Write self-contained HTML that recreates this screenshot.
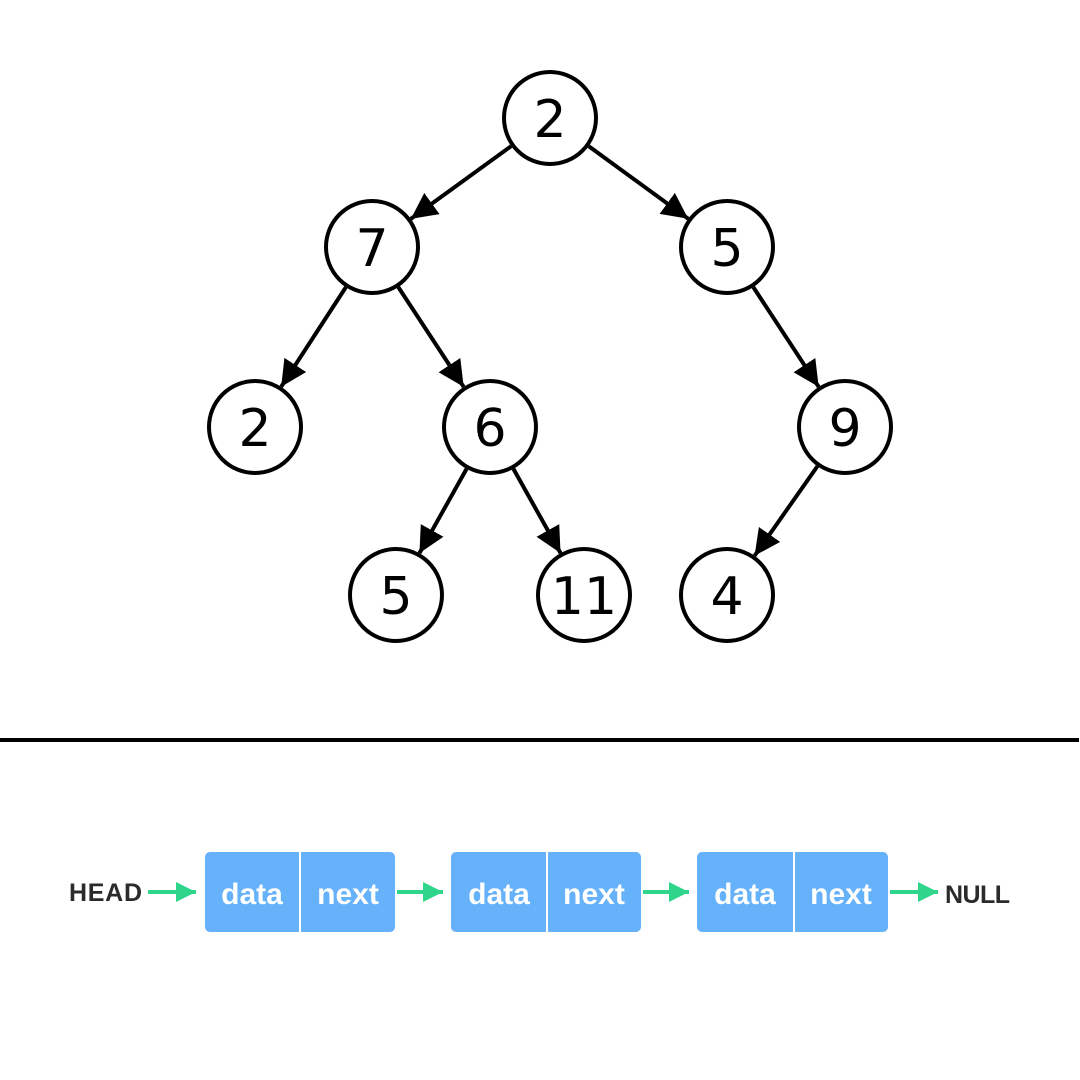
<!DOCTYPE html>
<html><head><meta charset="utf-8"><style>
body{margin:0;background:#fff;width:1080px;height:1080px;overflow:hidden}
svg{display:block}
</style></head><body>
<svg id="s" width="1080" height="1080" xmlns="http://www.w3.org/2000/svg">
<defs>
<marker id="a" viewBox="0 0 10 10" refX="10" refY="5" markerWidth="26" markerHeight="26" markerUnits="userSpaceOnUse" orient="auto"><path d="M0,0L10,5L0,10z" fill="#000"/></marker>
<marker id="g" viewBox="0 0 10 10" refX="10" refY="5" markerWidth="20" markerHeight="20" markerUnits="userSpaceOnUse" orient="auto"><path d="M0,0L10,5L0,10z" fill="#2fd58b"/></marker>
</defs>
<g id="edges" stroke="#000" stroke-width="4"></g>
<g id="nodes" fill="#fff" stroke="#000" stroke-width="4">
<circle cx="550" cy="118" r="46"/><circle cx="372" cy="247" r="46"/><circle cx="727" cy="247" r="46"/>
<circle cx="255" cy="427" r="46"/><circle cx="490" cy="427" r="46"/><circle cx="845" cy="427" r="46"/>
<circle cx="396" cy="595" r="46"/><circle cx="584" cy="595" r="46"/><circle cx="727" cy="595" r="46"/>
</g>
<g font-family="DejaVu Sans, sans-serif" font-size="52" text-anchor="middle" fill="#000">
<text x="550" y="137">2</text><text x="372" y="266">7</text><text x="727" y="266">5</text>
<text x="255" y="446">2</text><text x="490" y="446">6</text><text x="845" y="446">9</text>
<text x="396" y="614">5</text><text x="584" y="614">11</text><text x="727" y="614">4</text>
</g>
<rect x="0" y="738" width="1079" height="4" fill="#000"/>
<g fill="#66b2fa">
<rect x="205" y="852" width="190" height="80" rx="5"/>
<rect x="451" y="852" width="190" height="80" rx="5"/>
<rect x="697" y="852" width="191" height="80" rx="5"/>
</g>
<g stroke="#fff" stroke-width="2"><line x1="300" y1="852" x2="300" y2="932"/><line x1="547" y1="852" x2="547" y2="932"/><line x1="794" y1="852" x2="794" y2="932"/></g>
<g font-family="Liberation Sans, sans-serif" font-weight="bold" font-size="30" fill="#fff" text-anchor="middle">
<text x="252" y="904">data</text><text x="348" y="904">next</text>
<text x="499" y="904">data</text><text x="594" y="904">next</text>
<text x="745" y="904">data</text><text x="841" y="904">next</text>
</g>
<g font-family="Liberation Sans, sans-serif" font-weight="bold" font-size="25" fill="#2b2b2b">
<text x="69" y="901" textLength="73">HEAD</text><text x="945" y="903" textLength="65">NULL</text>
</g>
<g stroke="#2fd58b" stroke-width="4" marker-end="url(#g)">
<line x1="148" y1="892" x2="196" y2="892"/><line x1="397" y1="892" x2="443" y2="892"/>
<line x1="643" y1="892" x2="689" y2="892"/><line x1="890" y1="892" x2="938" y2="892"/>
</g>
</svg>
<script>
var N={r:[550,118],a:[372,247],b:[727,247],c:[255,427],d:[490,427],e:[845,427],f:[396,595],h:[584,595],i:[727,595]};
var E=[["r","a"],["r","b"],["a","c"],["a","d"],["b","e"],["d","f"],["d","h"],["e","i"]];
var g=document.getElementById("edges"),R=48;
E.forEach(function(p){var A=N[p[0]],B=N[p[1]],dx=B[0]-A[0],dy=B[1]-A[1],L=Math.hypot(dx,dy),ux=dx/L,uy=dy/L;
var l=document.createElementNS("http://www.w3.org/2000/svg","line");
l.setAttribute("x1",A[0]+ux*R);l.setAttribute("y1",A[1]+uy*R);l.setAttribute("x2",B[0]-ux*R);l.setAttribute("y2",B[1]-uy*R);
l.setAttribute("marker-end","url(#a)");g.appendChild(l);});
</script>
</body></html>
